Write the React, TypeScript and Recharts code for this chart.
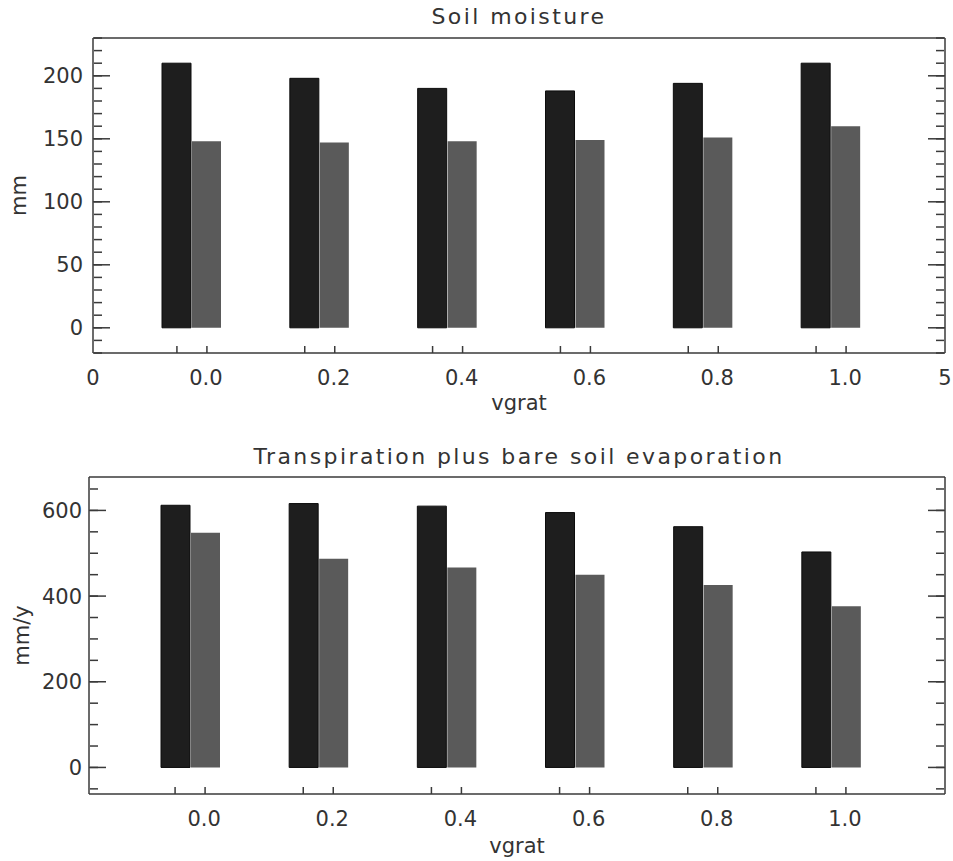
import { BarChart, Bar, XAxis, YAxis } from "recharts";

// vgrat categories and the two series for each panel
const vgrat = ["0.0", "0.2", "0.4", "0.6", "0.8", "1.0"];
const moistureDark = [210, 198, 190, 188, 194, 210];
const moistureGrey = [148, 147, 148, 149, 151, 160];
const evapDark = [612, 616, 610, 595, 562, 503];
const evapGrey = [548, 487, 467, 450, 426, 376];

const moistureTicks = [0, 50, 100, 150, 200];
const moistureMinor = [-20, -10, 0, 10, 20, 30, 40, 50, 60, 70, 80, 90, 100, 110, 120, 130, 140, 150, 160, 170, 180, 190, 200, 210, 220, 230];
const evapTicks = [0, 200, 400, 600];
const evapMinor = [-50, 0, 50, 100, 150, 200, 250, 300, 350, 400, 450, 500, 550, 600, 650];
const edgeTicks = [0, 5];

const moistureData = vgrat.map((v, i) => ({ vgrat: v, dark: moistureDark[i], grey: moistureGrey[i] }));
const evapData = vgrat.map((v, i) => ({ vgrat: v, dark: evapDark[i], grey: evapGrey[i] }));

const FONT = "'DejaVu Sans', sans-serif";
const TEXT = "#333";
const FRAME = "#3a3a3a";
const DARK = "#1e1e1e";
const GREY = "#5a5a5a";

// category label sits under the second bar; small marks at each bar centre
function CategoryTick(props: any) {
  const { x, y, payload } = props;
  return (
    <g>
      <line x1={x - 15} x2={x - 15} y1={y} y2={y - 7} stroke={FRAME} strokeWidth={1.5} />
      <line x1={x + 15} x2={x + 15} y1={y} y2={y - 7} stroke={FRAME} strokeWidth={1.5} />
      <text x={x + 14} y={y + 32} textAnchor="middle" fontSize={21} fontFamily={FONT} fill={TEXT}>
        {payload.value}
      </text>
    </g>
  );
}

function EdgeTick(props: any) {
  const { x, y, payload } = props;
  return (
    <text x={x} y={y + 32} textAnchor="middle" fontSize={21} fontFamily={FONT} fill={TEXT}>
      {payload.value}
    </text>
  );
}

// tick marks only, no text
function NoLabel() {
  return <g />;
}

interface PanelProps {
  data: { vgrat: string; dark: number; grey: number }[];
  domain: [number, number];
  ticks: number[];
  minor: number[];
  unit: string;
  unitOffset: number;
  left: number;
  top: number;
  bottom: number;
  height: number;
  labelGap: number;
  labelOffset: number;
  padding: { left: number; right: number };
  showEdges?: boolean;
}

function Panel({ data, domain, ticks, minor, unit, unitOffset, left, top, bottom, height, labelGap, labelOffset, padding, showEdges }: PanelProps) {
  const axisLine = { stroke: FRAME, strokeWidth: 1.5 };
  const markAxis = (id: string, side: "left" | "right", values: number[], size: number) => (
    <YAxis
      yAxisId={id}
      orientation={side}
      type="number"
      domain={domain}
      allowDataOverflow
      ticks={values}
      mirror
      width={1}
      interval={0}
      axisLine={side === "right" && size > 10 ? axisLine : false}
      tick={<NoLabel />}
      tickSize={size}
      tickMargin={0}
      tickLine={axisLine}
    />
  );
  return (
    <BarChart
      width={953}
      height={height}
      data={data}
      margin={{ top: top - 1, right: 8, bottom: 0, left: 0 }}
      barSize={29}
      barGap={1}
    >
      <XAxis
        dataKey="vgrat"
        height={bottom}
        padding={padding}
        axisLine={axisLine}
        tickLine={false}
        tickSize={0}
        tickMargin={0}
        interval={0}
        tick={<CategoryTick />}
        label={{ value: "vgrat", position: "insideBottom", offset: labelOffset, fontSize: 21, fontFamily: FONT, fill: TEXT }}
      />
      {showEdges && (
        <XAxis
          xAxisId="edge"
          type="number"
          domain={[0, 5]}
          ticks={edgeTicks}
          mirror
          height={1}
          axisLine={false}
          tickLine={false}
          tickSize={0}
          tickMargin={0}
          interval={0}
          tick={<EdgeTick />}
        />
      )}
      <XAxis xAxisId="top" orientation="top" height={1} axisLine={axisLine} tick={false} tickLine={false} />
      <YAxis
        yAxisId="main"
        type="number"
        domain={domain}
        ticks={ticks}
        allowDataOverflow
        width={left}
        interval={0}
        axisLine={axisLine}
        tickLine={false}
        tickSize={0}
        tickMargin={labelGap}
        tick={{ fontSize: 21, fontFamily: FONT, fill: TEXT }}
        label={{ value: unit, angle: -90, position: "insideLeft", offset: unitOffset, fontSize: 21, fontFamily: FONT, fill: TEXT, style: { textAnchor: "middle" } }}
      />
      {markAxis("lmaj", "left", ticks, 17)}
      {markAxis("lmin", "left", minor, 8)}
      {markAxis("rmaj", "right", ticks, 17)}
      {markAxis("rmin", "right", minor, 8)}
      <Bar yAxisId="main" dataKey="dark" fill={DARK} stroke="#0c0c0c" strokeWidth={1} isAnimationActive={false} />
      <Bar yAxisId="main" dataKey="grey" fill={GREY} isAnimationActive={false} />
    </BarChart>
  );
}

const titleStyle: React.CSSProperties = {
  position: "absolute",
  width: 953,
  paddingLeft: 85,
  boxSizing: "border-box",
  textAlign: "center",
  fontFamily: FONT,
  fontSize: 22,
  letterSpacing: "2.4px",
  color: TEXT,
  lineHeight: "26px",
};

export default function App() {
  return (
    <div style={{ position: "absolute", left: 0, top: 0, width: 953, height: 861, background: "#fff" }}>
      <div style={{ position: "absolute", left: 0, top: 0 }}>
        <Panel
          data={moistureData}
          domain={[-20, 230]}
          ticks={moistureTicks}
          minor={moistureMinor}
          unit="mm"
          unitOffset={19}
          left={93}
          top={38}
          bottom={77}
          height={430}
          labelGap={10}
          labelOffset={20}
          padding={{ left: 35, right: 50 }}
          showEdges
        />
      </div>
      <div style={{ ...titleStyle, top: 4 }}>Soil moisture</div>
      <div style={{ position: "absolute", left: 0, top: 430 }}>
        <Panel
          data={evapData}
          domain={[-62, 678]}
          ticks={evapTicks}
          minor={evapMinor}
          unit="mm/y"
          unitOffset={22}
          left={89}
          top={47}
          bottom={67}
          height={431}
          labelGap={7}
          labelOffset={8}
          padding={{ left: 37, right: 50 }}
        />
      </div>
      <div style={{ ...titleStyle, top: 444 }}>Transpiration plus bare soil evaporation</div>
    </div>
  );
}
